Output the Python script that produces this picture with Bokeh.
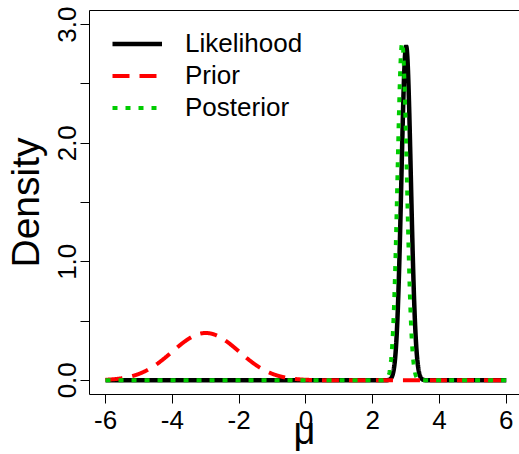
import numpy as np
from math import pi
from bokeh.plotting import figure
from bokeh.models import (FixedTicker, LinearAxis, Legend, LegendItem,
                          PrintfTickFormatter, Range1d, ColumnDataSource)
from bokeh.embed import file_html
from bokeh.resources import INLINE

# ---- data (normal density parameters) ----
series_names = ["Likelihood", "Prior", "Posterior"]
series_means = [3.0, -3.0, 2.88]
series_sds = [0.1415, 1.0, 0.140]
x_ticks = [-6, -4, -2, 0, 2, 4, 6]
y_ticks = [0.0, 1.0, 2.0, 3.0]
y_minor_ticks = [0.5, 1.5, 2.5]
mu_min, mu_max = -6, 6

mu = np.linspace(mu_min, mu_max, 2401)


def dens(m, s):
    return np.exp(-0.5 * ((mu - m) / s) ** 2) / (s * np.sqrt(2 * pi))


FONT = "Liberation Sans"

p = figure(width=519, height=454, output_backend="svg", toolbar_location=None,
           x_range=Range1d(-6.48, 6.394), y_range=Range1d(-0.12, 3.12),
           min_border_left=89, min_border_right=0, min_border_top=10,
           min_border_bottom=60)
p.outline_line_color = None
p.xgrid.visible = False
p.ygrid.visible = False
p.background_fill_color = "white"
p.border_fill_color = "white"

styles = [
    dict(line_color="black", line_width=4.5),
    dict(line_color="#FF0000", line_width=4, line_dash="17 10"),
    dict(line_color="#00CC00", line_width=4, line_dash="5 8"),
]

items = []
for name, m, s, st in zip(series_names, series_means, series_sds, styles):
    src = ColumnDataSource(dict(x=mu, y=dens(m, s)))
    r = p.line("x", "y", source=src, **st)
    items.append(LegendItem(label=name, renderers=[r]))

# axes
xa = p.xaxis[0]
xa.ticker = FixedTicker(ticks=x_ticks, minor_ticks=[])
xa.formatter = PrintfTickFormatter(format="%d")
ya = p.yaxis[0]
ya.ticker = FixedTicker(ticks=y_ticks, minor_ticks=y_minor_ticks)
ya.formatter = PrintfTickFormatter(format="%.1f")
ya.major_label_orientation = "vertical"
for ax in (xa, ya):
    ax.axis_line_color = "black"
    ax.axis_line_width = 1
    ax.major_tick_line_color = "black"
    ax.major_tick_out = 9
    ax.major_tick_in = 0
    ax.minor_tick_line_color = "black"
    ax.minor_tick_out = 9
    ax.minor_tick_in = 0
    ax.major_label_text_font = FONT
    ax.major_label_text_font_size = "26px"
    ax.major_label_text_color = "black"
    ax.axis_label_text_font = FONT
    ax.axis_label_text_font_style = "normal"
    ax.axis_label_text_color = "black"
xa.major_label_standoff = 7
ya.major_label_standoff = 4

ya.axis_label = "Density"
ya.axis_label_text_font_size = "39px"
ya.axis_label_standoff = 9
xa.axis_label = "μ"
xa.axis_label_text_font_size = "38px"
xa.axis_label_standoff = -22

top = LinearAxis(ticker=FixedTicker(ticks=[]), axis_line_color="black",
                 major_tick_line_color=None, minor_tick_line_color=None,
                 major_label_text_font_size="0px")
p.add_layout(top, "above")

legend = Legend(items=items, location=(23, 271), margin=0, padding=0,
                spacing=1, glyph_height=31, label_height=31, glyph_width=50,
                label_standoff=23, label_text_font=FONT,
                label_text_font_size="26px", label_text_color="black",
                background_fill_color="white", background_fill_alpha=0.0,
                border_line_color=None)
p.add_layout(legend)

open("out.html", "w").write(file_html(p, INLINE))
